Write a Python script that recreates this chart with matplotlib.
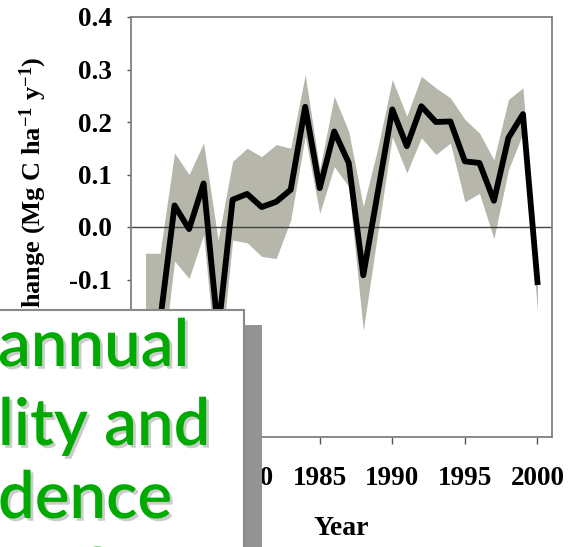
import matplotlib
matplotlib.use("Agg")
import matplotlib.pyplot as plt
import matplotlib.patheffects as pe
from matplotlib.patches import Rectangle
import numpy as np

# annual soil C change, mean and confidence band
years = np.arange(1973, 2001)
mean = [-0.21, -0.18, 0.041, -0.004, 0.083, -0.20, 0.052, 0.063, 0.038, 0.048,
        0.071, 0.229, 0.074, 0.182, 0.122, -0.092, 0.066, 0.224, 0.154, 0.230,
        0.200, 0.201, 0.125, 0.122, 0.050, 0.170, 0.215, -0.105]
upper = [-0.05, -0.05, 0.141, 0.100, 0.160, -0.025, 0.125, 0.150, 0.134, 0.157,
         0.150, 0.290, 0.110, 0.249, 0.182, 0.039, 0.150, 0.281, 0.211, 0.287,
         0.265, 0.246, 0.205, 0.179, 0.128, 0.243, 0.265, -0.100]
lower = [-0.30, -0.30, -0.065, -0.098, -0.015, -0.30, -0.025, -0.030, -0.056, -0.060,
         0.013, 0.173, 0.026, 0.115, 0.077, -0.197, -0.010, 0.172, 0.103, 0.170,
         0.138, 0.160, 0.048, 0.064, -0.022, 0.109, 0.179, -0.160]
xticks = [1975, 1980, 1985, 1990, 1995, 2000]
yticks = [-0.4, -0.3, -0.2, -0.1, 0.0, 0.1, 0.2, 0.3, 0.4]
slide_lines = ["annual", "lity and", "dence"]

plt.rcParams["font.family"] = "Liberation Serif"
plt.rcParams["font.weight"] = "bold"
plt.rcParams["axes.unicode_minus"] = False
plt.rcParams["mathtext.fontset"] = "custom"
plt.rcParams["mathtext.rm"] = "Liberation Serif:bold"
plt.rcParams["mathtext.default"] = "rm"

fig = plt.figure(figsize=(5.68, 5.47), dpi=100)
ax = fig.add_axes([131/568, 1-437/547, 421/568, 420/547])

ax.fill_between(years, lower, upper, color="#b6b6aa", lw=0, zorder=1)
ax.axhline(0, color="#444444", lw=1.0, zorder=2)
ax.plot(years, mean, color="black", lw=4.2, zorder=3)

ax.set_xlim(1972, 2001)
ax.set_ylim(-0.4, 0.4)
ax.set_xticks(xticks)
ax.set_yticks(yticks)
ax.set_yticklabels(["%.1f" % v for v in yticks])
ax.tick_params(axis="x", direction="out", length=5, width=1, color="#555555",
               pad=16, labelsize=19.5)
ax.tick_params(axis="y", direction="out", length=3, width=1, color="#555555",
               pad=11, labelsize=19.5)
for s in ax.spines.values():
    s.set_color("#808080")
    s.set_linewidth(1.3)

ax.set_xlabel("Year", fontsize=20, fontweight="bold")
ax.xaxis.set_label_coords(0.5, -0.188)
fig.text(33/568, 1-56/547, r"Change (Mg C ha$^{-1}$ y$^{-1}$)", rotation=90,
         ha="center", va="top", fontsize=19, fontweight="bold")

# slide text box over the lower left
fig.add_artist(Rectangle((244/568, -0.02), 18/568, 1-325/547+0.02,
                         transform=fig.transFigure, facecolor="#939393",
                         edgecolor="none", zorder=5))
fig.add_artist(Rectangle((-0.02, -0.02), 244/568+0.02, 1-310/547+0.02,
                         transform=fig.transFigure, facecolor="white",
                         edgecolor="#8a8a8a", lw=1.5, zorder=6))

shadow = [pe.SimplePatchShadow(offset=(2, -2), shadow_rgbFace="#999999", alpha=0.5),
          pe.Normal()]
baselines = [366, 445, 518]
for txt, yb in zip(slide_lines, baselines):
    fig.text(-2/568, 1-yb/547, txt, ha="left", va="baseline", fontsize=47,
             family="Lato", fontweight="semibold", color="#00aa00", zorder=7,
             path_effects=shadow)
fig.text(83/568, 1-594/547, "?", ha="left", va="baseline", fontsize=47,
         family="Lato", fontweight="semibold", color="#00aa00", zorder=7,
         path_effects=shadow)

fig.savefig("out.png", dpi=100)
